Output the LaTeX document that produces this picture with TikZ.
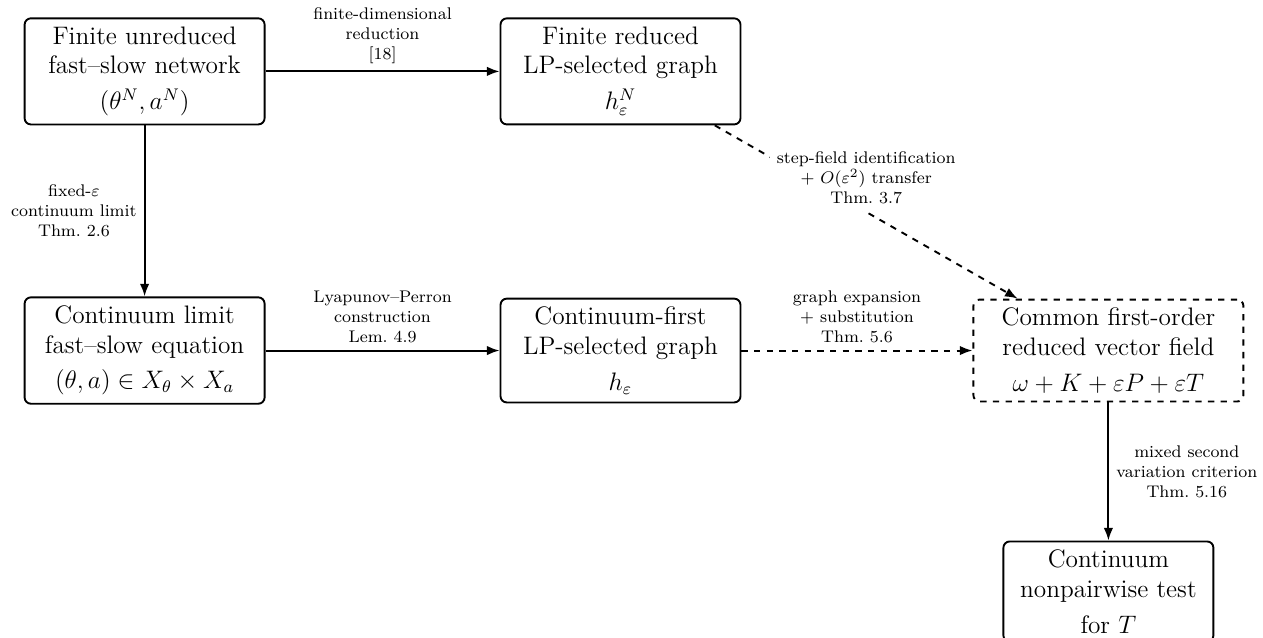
\documentclass[tikz,border=0pt]{standalone}
\usepackage{amsmath, amssymb}
\usetikzlibrary{arrows.meta,positioning}

\begin{document}
\begin{tikzpicture}[->,>={Latex[length=6pt,width=4.5pt]},auto,node distance=3.9cm,
        line width=0.9pt,main node/.style={draw,rounded corners=3pt,align=center,font=\large,minimum width=4cm,inner sep=4pt},
        lbl/.style={font=\footnotesize,align=center,fill=white}]

        \useasboundingbox (0,0) rectangle (21.05,-10.63);

        \node[main node] (fu) at (2.41,-1.19) {Finite unreduced\\ fast--slow network\\[3pt] $(\theta^N,a^N)$};
        \node[main node] (fr) [right=of fu] {Finite reduced\\ LP-selected graph\\[3pt] $h_\varepsilon^N$};
        \node[main node] (cl) [below=2.85cm of fu] {Continuum limit\\ fast--slow equation\\[3pt] $(\theta,a)\in X_\theta\times X_a$};
        \node[main node] (cf) [right=of cl] {Continuum-first\\ LP-selected graph\\[3pt] $h_\varepsilon$};
        \node[main node,dashed,minimum width=4.5cm] (cm) [right=3.85cm of cf] {Common first-order\\ reduced vector field\\[3pt] $\omega+K+\varepsilon P+\varepsilon T$};
        \node[main node,minimum width=3.5cm] (nt) [below=2.3cm of cm] {Continuum\\ nonpairwise test\\[3pt] for $T$};

        \path[every node/.style={lbl}]
        (fu) edge node [above] {finite-dimensional\\ reduction\\ {[18]}} (fr)
        (fu) edge node [left] {fixed-$\varepsilon$\\ continuum limit\\ Thm.~2.6} (cl)
        (cl) edge node [above] {Lyapunov--Perron\\ construction\\ Lem.~4.9} (cf)
        (cf) edge [dashed] node [above] {graph expansion\\ + substitution\\ Thm.~5.6} (cm)
        (fr) edge [dashed] node [above] {step-field identification\\ + $O(\varepsilon^2)$ transfer\\ Thm.~3.7} (cm)
        (cm) edge node [right] {mixed second\\ variation criterion\\ Thm.~5.16} (nt);
      \end{tikzpicture}
\end{document}
